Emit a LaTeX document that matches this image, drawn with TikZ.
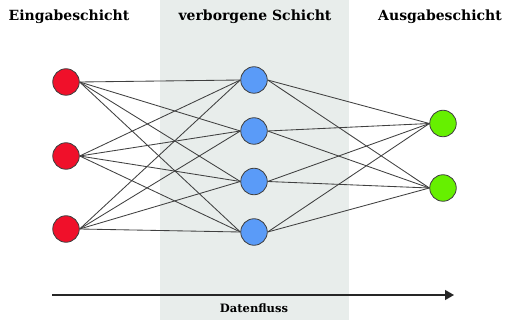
\documentclass[tikz,border=0pt]{standalone}
\usepackage{fontspec}
\setmainfont{DejaVu Serif}
\usetikzlibrary{arrows.meta}
\definecolor{band}{HTML}{E8EDEB}
\definecolor{inred}{HTML}{F0102A}
\definecolor{hidblue}{HTML}{5A9BF8}
\definecolor{outgreen}{HTML}{66F000}
\definecolor{edge}{HTML}{404040}
\tikzset{
  neuron/.style={circle, draw=edge, line width=0.8pt, minimum size=26.5pt, inner sep=0pt},
  conn/.style={draw=edge, line width=0.85pt},
  title/.style={font=\bfseries\fontsize{14}{16}\selectfont, inner sep=0pt, anchor=base},
}
\begin{document}
\begin{tikzpicture}[x=1pt,y=-1pt]
\useasboundingbox (0,0) rectangle (505,320);
\fill[band] (160,0) rectangle (349,320);
\node[title] (t1) at (69,21) {Eingabeschicht};
\node[title] (t2) at (255,21) {verborgene Schicht};
\node[title] (t3) at (440,21) {Ausgabeschicht};
\foreach \i/\y in {1/82,2/156,3/229} \node[neuron, fill=inred] (i\i) at (66,\y) {};
\foreach \i/\y in {1/80,2/131,3/181.5,4/232} \node[neuron, fill=hidblue] (h\i) at (254,\y) {};
\foreach \i/\y in {1/123.5,2/188} \node[neuron, fill=outgreen] (o\i) at (443,\y) {};
\foreach \a in {1,2,3} \foreach \b in {1,2,3,4} \draw[conn] (i\a.east) -- (h\b.west);
\foreach \a in {1,2,3,4} \foreach \b in {1,2} \draw[conn] (h\a.east) -- (o\b.west);
\coordinate (fs) at (52,295);
\coordinate (fe) at (454,295);
\draw[draw=black!85, line width=1.3pt, -{Triangle[length=9pt,width=10pt]}] (fs) -- (fe);
\node[font=\bfseries\fontsize{11.5}{13}\selectfont, inner sep=0pt, anchor=base] (df) at (254,312) {Datenfluss};
\end{tikzpicture}
\end{document}
